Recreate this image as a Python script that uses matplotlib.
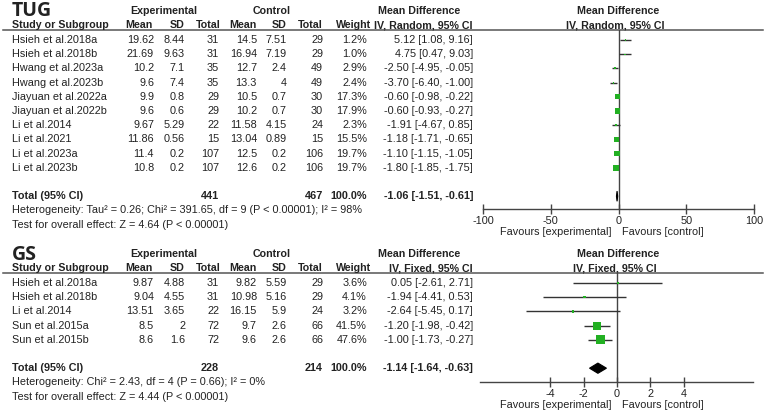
import matplotlib
matplotlib.use("Agg")
import matplotlib.pyplot as plt
from matplotlib.patches import Polygon
import numpy as np

# ---------------- data ----------------
tug_studies = ["Hsieh et al.2018a", "Hsieh et al.2018b", "Hwang et al.2023a", "Hwang et al.2023b",
               "Jiayuan et al.2022a", "Jiayuan et al.2022b", "Li et al.2014", "Li et al.2021",
               "Li et al.2023a", "Li et al.2023b"]
tug_exp_mean = ["19.62", "21.69", "10.2", "9.6", "9.9", "9.6", "9.67", "11.86", "11.4", "10.8"]
tug_exp_sd = ["8.44", "9.63", "7.1", "7.4", "0.8", "0.6", "5.29", "0.56", "0.2", "0.2"]
tug_exp_n = [31, 31, 35, 35, 29, 29, 22, 15, 107, 107]
tug_ctl_mean = ["14.5", "16.94", "12.7", "13.3", "10.5", "10.2", "11.58", "13.04", "12.5", "12.6"]
tug_ctl_sd = ["7.51", "7.19", "2.4", "4", "0.7", "0.7", "4.15", "0.89", "0.2", "0.2"]
tug_ctl_n = [29, 29, 49, 49, 30, 30, 24, 15, 106, 106]
tug_weight = [1.2, 1.0, 2.9, 2.4, 17.3, 17.9, 2.3, 15.5, 19.7, 19.7]
tug_md = [5.12, 4.75, -2.50, -3.70, -0.60, -0.60, -1.91, -1.18, -1.10, -1.80]
tug_lo = [1.08, 0.47, -4.95, -6.40, -0.98, -0.93, -4.67, -1.71, -1.15, -1.85]
tug_hi = [9.16, 9.03, -0.05, -1.00, -0.22, -0.27, 0.85, -0.65, -1.05, -1.75]
tug_total = (441, 467, -1.06, -1.51, -0.61)
tug_het = "Heterogeneity: Tau² = 0.26; Chi² = 391.65, df = 9 (P < 0.00001); I² = 98%"
tug_test = "Test for overall effect: Z = 4.64 (P < 0.00001)"
tug_ticks = [-100, -50, 0, 50, 100]

gs_studies = ["Hsieh et al.2018a", "Hsieh et al.2018b", "Li et al.2014", "Sun et al.2015a", "Sun et al.2015b"]
gs_exp_mean = ["9.87", "9.04", "13.51", "8.5", "8.6"]
gs_exp_sd = ["4.88", "4.55", "3.65", "2", "1.6"]
gs_exp_n = [31, 31, 22, 72, 72]
gs_ctl_mean = ["9.82", "10.98", "16.15", "9.7", "9.6"]
gs_ctl_sd = ["5.59", "5.16", "5.9", "2.6", "2.6"]
gs_ctl_n = [29, 29, 24, 66, 66]
gs_weight = [3.6, 4.1, 3.2, 41.5, 47.6]
gs_md = [0.05, -1.94, -2.64, -1.20, -1.00]
gs_lo = [-2.61, -4.41, -5.45, -1.98, -1.73]
gs_hi = [2.71, 0.53, 0.17, -0.42, -0.27]
gs_total = (228, 214, -1.14, -1.64, -0.63)
gs_het = "Heterogeneity: Chi² = 2.43, df = 4 (P = 0.66); I² = 0%"
gs_test = "Test for overall effect: Z = 4.44 (P < 0.00001)"
gs_ticks = [-4, -2, 0, 2, 4]

# ---------------- style ----------------
W, H = 767, 415
FONT = "Liberation Sans"
FS = 7.85
HFS = 7.7
TC = "#222222"
GREEN = "#22B022"
LINE = "#444444"

fig = plt.figure(figsize=(W / 100, H / 100), dpi=100)
bg = fig.add_axes([0, 0, 1, 1])
bg.set_xlim(0, W)
bg.set_ylim(H, 0)
bg.axis("off")


def t(x, y, s, ha="left", bold=False, size=None, family=FONT):
    bg.text(x, y, s, ha=ha, va="center", fontsize=size or (HFS if bold else FS),
            fontweight="bold" if bold else "normal", family=family, color=TC)


def panel(title, method, y0, studies, em, esd, en, cm, csd, cn, wt, md, lo, hi, total,
          het, test, ticks, ax_px, xlim):
    row_h = 14.2
    yt = y0 - 29          # title / header row 1
    yh = y0 - 15          # header row 2
    yl = y0 - 10          # header line
    t(12, yt + 0.5, title, bold=True, size=14, family="Open Sans")
    t(164, yt, "Experimental", ha="center", bold=True)
    t(272, yt, "Control", ha="center", bold=True)
    t(378, yt, "Mean Difference", bold=True)
    t(618, yt, "Mean Difference", ha="center", bold=True)
    t(12, yh, "Study or Subgroup", bold=True)
    for x, s in [(153, "Mean"), (185, "SD"), (221, "Total"), (257, "Mean"), (287, "SD"),
                 (323, "Total"), (371, "Weight"), (473, method)]:
        t(x, yh, s, ha="right", bold=True)
    t(615, yh, method, ha="center", bold=True)
    bg.plot([3, 763], [yl, yl], color="#555555", lw=1.1)

    for i, s in enumerate(studies):
        y = y0 + i * row_h
        t(12, y, s)
        t(154, y, em[i], ha="right")
        t(185, y, esd[i], ha="right")
        t(219, y, str(en[i]), ha="right")
        t(257, y, cm[i], ha="right")
        t(287, y, csd[i], ha="right")
        t(323, y, str(cn[i]), ha="right")
        t(367, y, f"{wt[i]:.1f}%", ha="right")
        t(473, y, f"{md[i]:.2f} [{lo[i]:.2f}, {hi[i]:.2f}]", ha="right")

    nt = len(studies) + 1
    yT = y0 + nt * row_h
    t(12, yT, "Total (95% CI)", bold=True, size=FS)
    t(219, yT, str(total[0]), ha="right", bold=True, size=FS)
    t(323, yT, str(total[1]), ha="right", bold=True, size=FS)
    t(367, yT, "100.0%", ha="right", bold=True, size=FS)
    t(473, yT, f"{total[2]:.2f} [{total[3]:.2f}, {total[4]:.2f}]", ha="right", bold=True, size=FS)
    t(12, yT + row_h, het)
    t(12, yT + 2 * row_h, test)

    # forest axes
    xl, xr, ytop, ybot = ax_px
    ax = fig.add_axes([xl / W, 1 - ybot / H, (xr - xl) / W, (ybot - ytop) / H])
    ax.set_xlim(*xlim)
    ax.set_ylim((ybot - y0) / row_h, (ytop - y0) / row_h)
    ax.patch.set_alpha(0)
    for sp in ["top", "left", "right"]:
        ax.spines[sp].set_visible(False)
    ax.spines["bottom"].set_color(LINE)
    ax.spines["bottom"].set_linewidth(1.0)
    ax.set_yticks([])
    ax.set_xticks(ticks)
    ax.set_xticklabels([str(v) for v in ticks], fontsize=FS, family=FONT, color=TC)
    ax.tick_params(axis="x", direction="inout", length=7, width=1.0, color=LINE, pad=1.5)
    ax.axvline(0, color=LINE, lw=1.0)
    rows = np.arange(len(studies))
    ax.hlines(rows, lo, hi, color="#333333", lw=1.0)
    ax.scatter(md, rows, marker="s", s=(0.9 * np.sqrt(wt)) ** 2, color=GREEN, zorder=3,
               linewidths=0)
    d = 0.36
    poly = Polygon([(total[3], nt), (total[2], nt - d), (total[4], nt), (total[2], nt + d)],
                   closed=True, facecolor="black", edgecolor="black", lw=0.8, zorder=4)
    ax.add_patch(poly)
    fy = ybot + 23
    bg.text(612, fy, "Favours [experimental]", ha="right", va="center", fontsize=FS,
            family=FONT, color=TC)
    bg.text(622, fy, "Favours [control]", ha="left", va="center", fontsize=FS,
            family=FONT, color=TC)


panel("TUG", "IV, Random, 95% CI", 40, tug_studies, tug_exp_mean, tug_exp_sd, tug_exp_n,
      tug_ctl_mean, tug_ctl_sd, tug_ctl_n, tug_weight, tug_md, tug_lo, tug_hi, tug_total,
      tug_het, tug_test, tug_ticks, (483, 754, 30, 209), (-100, 100))

panel("GS", "IV, Fixed, 95% CI", 283, gs_studies, gs_exp_mean, gs_exp_sd, gs_exp_n,
      gs_ctl_mean, gs_ctl_sd, gs_ctl_n, gs_weight, gs_md, gs_lo, gs_hi, gs_total,
      gs_het, gs_test, gs_ticks, (480, 753, 272, 382), (-8.18, 8.12))

fig.savefig("out.png", dpi=100)
